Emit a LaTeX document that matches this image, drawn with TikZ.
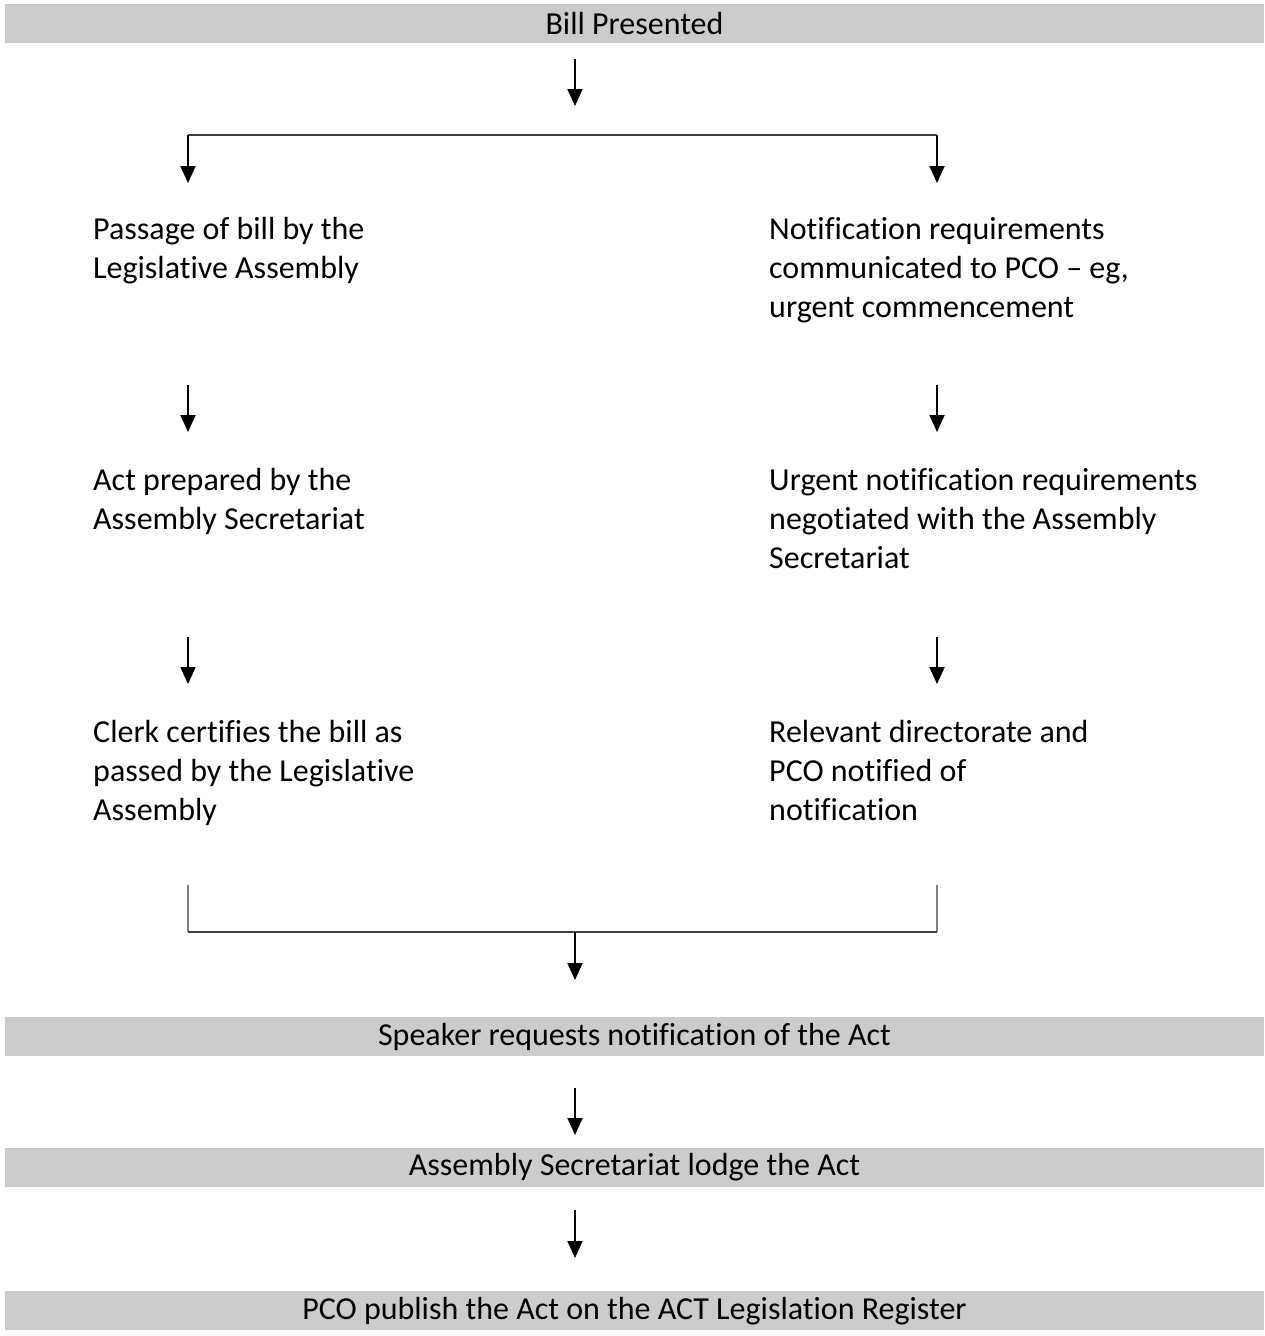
\documentclass[tikz,border=0pt]{standalone}
\usepackage{fontspec}
\setmainfont{Carlito}[Ligatures={NoCommon}]
\usetikzlibrary{arrows.meta}
\definecolor{barfill}{RGB}{204,204,204}
\definecolor{bracketgray}{RGB}{128,128,128}
\begin{document}
\begin{tikzpicture}[x=1pt,y=-1pt,
  txt/.style={font=\fontsize{32pt}{39pt}\selectfont, inner sep=0pt, align=left, anchor=base west},
  bartxt/.style={font=\fontsize{32pt}{39pt}\selectfont, inner sep=0pt, anchor=center},
  bar/.style={fill=barfill, draw=none},
  arr/.style={line width=1.8pt, -{Triangle[width=15pt,length=17pt]}},
  split/.style={line width=1.3pt, draw=black!75},
  brk/.style={line width=1.3pt, draw=bracketgray}
]
\useasboundingbox (0,0) rectangle (1265,1336);
\fill[white] (0,0) rectangle (1265,1336);

% bars
\fill[bar] (5,4) rectangle (1264,43);
\node[bartxt] (top) at (634.5,24) {Bill Presented};
\fill[bar] (5,1017) rectangle (1264,1056);
\node[bartxt] (speaker) at (634.5,1037) {Speaker requests notification of the Act};
\fill[bar] (5,1148) rectangle (1264,1187);
\node[bartxt] (lodge) at (634.5,1167) {Assembly Secretariat lodge the Act};
\fill[bar] (5,1291) rectangle (1264,1330);
\node[bartxt] (publish) at (634.5,1311) {PCO publish the Act on the ACT Legislation Register};

% left column text (anchor at baseline of last line)
\node[txt] (l1) at (93,278.5) {Passage of bill by the\\Legislative Assembly};
\node[txt] (l2) at (93,529.5) {Act prepared by the\\Assembly Secretariat};
\node[txt] (l3) at (93,820) {Clerk certifies the bill as\\passed by the Legislative\\Assembly};
% right column text
\node[txt] (r1) at (769,317.5) {Notification requirements\\communicated to PCO – eg,\\urgent commencement};
\node[txt] (r2) at (769,568) {Urgent notification requirements\\negotiated with the Assembly\\Secretariat};
\node[txt] (r3) at (769,820) {Relevant directorate and\\PCO notified of\\notification};

% coordinates for connectors
\coordinate (a0s) at (575,59);
\coordinate (a0e) at (575,106);
\coordinate (spL) at (188,135);
\coordinate (spR) at (937,135);
\coordinate (l1in) at (188,183);
\coordinate (r1in) at (937,183);
\coordinate (l1out) at (188,385);
\coordinate (l2in) at (188,432);
\coordinate (r1out) at (937,385);
\coordinate (r2in) at (937,432);
\coordinate (l2out) at (188,637);
\coordinate (l3in) at (188,684);
\coordinate (r2out) at (937,637);
\coordinate (r3in) at (937,684);
\coordinate (l3out) at (188,885);
\coordinate (r3out) at (937,885);
\coordinate (jL) at (188,932);
\coordinate (jR) at (937,932);
\coordinate (jM) at (575,932);
\coordinate (spkin) at (575,980);
\coordinate (spkout) at (575,1088);
\coordinate (lodin) at (575,1135);
\coordinate (lodout) at (575,1210);
\coordinate (pubin) at (575,1258);

% connectors
\draw[arr] (a0s) -- (a0e);
\draw[split] (spL) -- (spR);
\draw[arr] (spL) -- (l1in);
\draw[arr] (spR) -- (r1in);
\draw[arr] (l1out) -- (l2in);
\draw[arr] (r1out) -- (r2in);
\draw[arr] (l2out) -- (l3in);
\draw[arr] (r2out) -- (r3in);
\draw[brk] (l3out) -- (jL);
\draw[brk] (r3out) -- (jR);
\draw[split] (jL) -- (jR);
\draw[arr] (jM) -- (spkin);
\draw[arr] (spkout) -- (lodin);
\draw[arr] (lodout) -- (pubin);
\end{tikzpicture}
\end{document}
